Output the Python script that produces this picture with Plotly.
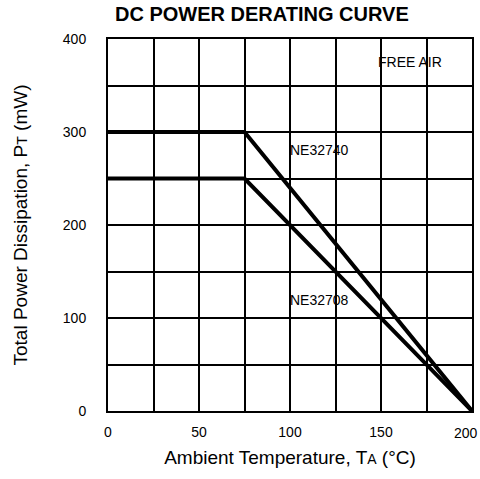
import plotly.graph_objects as go

# Data
temp_32740 = [0, 75, 200]
power_32740 = [300, 300, 0]
temp_32708 = [0, 75, 200]
power_32708 = [250, 250, 0]
x_ticks = [0, 50, 100, 150, 200]
y_ticks = [0, 100, 200, 300, 400]

FONT = "Liberation Sans, Arial, Helvetica, sans-serif"

fig = go.Figure()
fig.add_trace(go.Scatter(x=temp_32740, y=power_32740, mode="lines",
                         line=dict(color="black", width=4), name="NE32740",
                         showlegend=False))
fig.add_trace(go.Scatter(x=temp_32708, y=power_32708, mode="lines",
                         line=dict(color="black", width=4), name="NE32708",
                         showlegend=False))

fig.add_annotation(x=99, y=281, text="NE32740", showarrow=False, xanchor="left",
                   font=dict(size=14, color="black", family=FONT))
fig.add_annotation(x=99, y=119, text="NE32708", showarrow=False, xanchor="left",
                   font=dict(size=14, color="black", family=FONT))
fig.add_annotation(x=147, y=375, text="FREE AIR", showarrow=False, xanchor="left",
                   font=dict(size=14, color="black", family=FONT))
fig.add_annotation(xref="paper", yref="paper", x=0.423, y=1.067,
                   text="<b>DC POWER DERATING CURVE</b>", showarrow=False,
                   xanchor="center", yanchor="middle",
                   font=dict(size=20, color="black", family=FONT))

# last x tick label sits flush with the right edge, so place it as an annotation
fig.add_annotation(x=x_ticks[-1], xref="x", y=0, yref="paper", text=str(x_ticks[-1]),
                   showarrow=False, xanchor="right", yanchor="top", xshift=7, yshift=-13,
                   borderpad=0, font=dict(size=14, color="black", family=FONT))

fig.update_xaxes(range=[0, 200], tickvals=x_ticks[:-1], showgrid=True,
                 gridcolor="black", gridwidth=2,
                 minor=dict(dtick=25, showgrid=True, gridcolor="black", gridwidth=2),
                 showline=True, linecolor="black", linewidth=2, mirror=True,
                 zeroline=False, ticks="", ticklabelstandoff=7, automargin=False,
                 tickfont=dict(size=14, color="black", family=FONT),
                 title=dict(text="Ambient Temperature, T<span style='font-size:14px'>A</span> (°C)",
                            font=dict(size=19, color="black", family=FONT), standoff=12))
fig.update_yaxes(range=[0, 400], tickvals=y_ticks, showgrid=True,
                 gridcolor="black", gridwidth=2,
                 minor=dict(dtick=50, showgrid=True, gridcolor="black", gridwidth=2),
                 showline=True, linecolor="black", linewidth=2, mirror=True,
                 zeroline=False, ticks="", ticklabelstandoff=17, automargin=False,
                 tickfont=dict(size=14, color="black", family=FONT),
                 title=dict(text="Total Power Dissipation, P<span style='font-size:14px'>T</span> (mW)",
                            font=dict(size=19, color="black", family=FONT), standoff=30))

fig.update_layout(width=480, height=479, margin=dict(l=108, r=8, t=39, b=68),
                  plot_bgcolor="white", paper_bgcolor="white", showlegend=False)

fig.write_html("out.html")
